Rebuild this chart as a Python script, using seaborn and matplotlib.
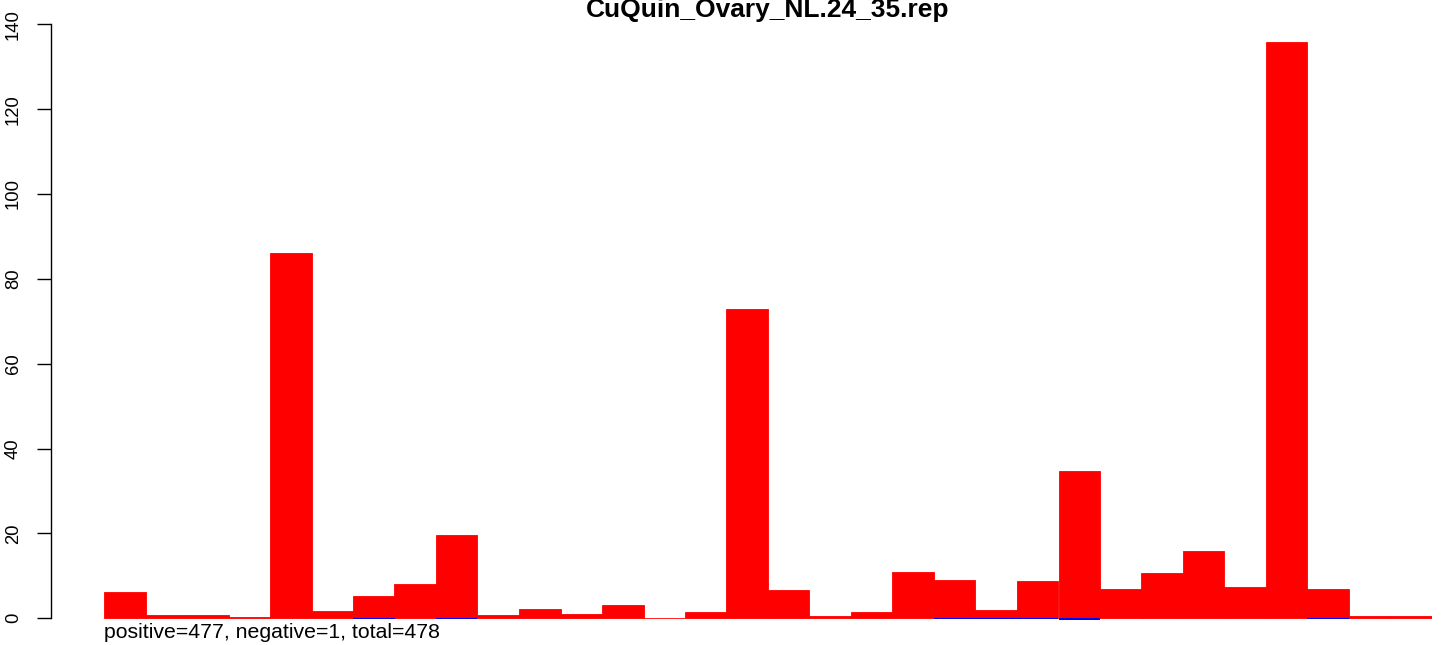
import numpy as np
import pandas as pd
import matplotlib
matplotlib.use('Agg')
import matplotlib.pyplot as plt
import seaborn as sns

# values, one per bin
positive = [6.2, 0.8, 0.8, 0.3, 86.1, 1.7, 5.3, 8.1, 19.7, 0.8,
            2.2, 1.0, 3.1, 0.1, 1.5, 73.0, 6.7, 0.5, 1.5, 10.9,
            9.0, 2.0, 8.8, 34.8, 6.9, 10.7, 15.9, 7.4, 135.8, 6.9,
            0.5, 0.5]
negative = [0, 0, 0, 0, 0, 0, -0.2, 0, -0.2, 0,
            0, 0, 0, 0, 0, 0, 0, 0, 0, 0,
            -0.2, -0.2, -0.2, -0.5, 0, 0, 0, 0, 0, -0.2,
            0, 0]
bins = list(range(len(positive)))
title = 'CuQuin_Ovary_NL.24_35.rep'
note = 'positive=477, negative=1, total=478'
yticks = [0, 20, 40, 60, 80, 100, 120, 140]

df = pd.DataFrame({'bin': bins, 'pos': positive, 'neg': negative})

sns.set_style('white')
plt.rcParams['font.family'] = ['Liberation Sans', 'DejaVu Sans']

W, H = 1441, 645
fig = plt.figure(figsize=(W / 100, H / 100), dpi=100)
# plot region in pixels: x 104..1432, y(0)=618.3, 4.243 px per unit
ppu = 4.243
ylo, yhi = -2, 141
bot_px = 618.3 - ylo * ppu
top_px = 618.3 - yhi * ppu
ax = fig.add_axes([104 / W, (H - bot_px) / H, (1432 - 104) / W, (bot_px - top_px) / H])

sns.barplot(data=df, x='bin', y='pos', color='red', saturation=1, width=1.0,
            linewidth=0.6, edgecolor='red', ax=ax)
sns.barplot(data=df, x='bin', y='neg', color='blue', saturation=1, width=1.0,
            linewidth=0, ax=ax)

ax.set_xlim(-0.5, len(bins) - 0.5)
ax.set_ylim(ylo, yhi)
ax.set_xlabel('')
ax.set_ylabel('')
ax.set_xticks([])
for s in ['top', 'right', 'bottom']:
    ax.spines[s].set_visible(False)
ax.spines['left'].set_bounds(0, 140)
ax.spines['left'].set_position(('outward', 38))
ax.spines['left'].set_linewidth(1.0)
ax.spines['left'].set_color('black')
ax.set_yticks(yticks)
ax.set_yticklabels([str(t) for t in yticks], rotation=90, va='center')
ax.tick_params(axis='y', left=True, length=10, width=1.0, pad=11, labelsize=13.3,
               colors='black')

fig.text(768 / W, 1 - 17 / H, title, ha='center', va='baseline',
         fontsize=19, fontweight='bold', color='black')
fig.text(104 / W, 1 - 632 / H, note, ha='left', va='center', fontsize=15.3,
         color='black')

fig.savefig('out.png', dpi=100)
